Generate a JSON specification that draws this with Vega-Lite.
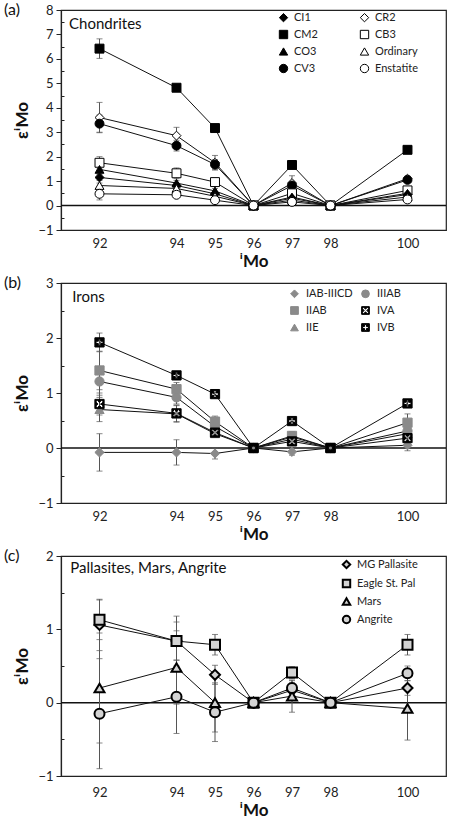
{
  "$schema": "https://vega.github.io/schema/vega-lite/v6.json",
  "padding": {"left": 3, "top": 1, "right": 5, "bottom": 0},
  "spacing": 4,
  "resolve": {"scale": {"shape": "independent", "fill": "independent", "stroke": "independent"}, "legend": {"shape": "independent", "fill": "independent", "stroke": "independent"}},
  "config": {
    "font": "Lato",
    "view": {"stroke": "#222", "strokeWidth": 1.2},
    "axis": {"domainColor": "#222", "domainWidth": 1.2, "tickColor": "#222", "labelColor": "#222", "titleColor": "#111", "labelFont": "Lato", "labelFontSize": 13, "titleFont": "Lato", "titleFontSize": 17, "titleFontWeight": "bold", "grid": false, "labelFlush": false},
    "legend": {"labelFont": "Lato", "labelColor": "#222", "padding": 0}
  },
  "datasets": {
    "a": [
      {"series": "CM2", "iso": 92, "val": 6.42, "err": 0.4}, {"series": "CM2", "iso": 94, "val": 4.82, "err": 0.12}, {"series": "CM2", "iso": 95, "val": 3.17, "err": 0.1}, {"series": "CM2", "iso": 96, "val": 0, "err": 0}, {"series": "CM2", "iso": 97, "val": 1.66, "err": 0.1}, {"series": "CM2", "iso": 98, "val": 0, "err": 0}, {"series": "CM2", "iso": 100, "val": 2.28, "err": 0.15},
      {"series": "CR2", "iso": 92, "val": 3.6, "err": 0.62}, {"series": "CR2", "iso": 94, "val": 2.86, "err": 0.34}, {"series": "CR2", "iso": 95, "val": 1.75, "err": 0.3}, {"series": "CR2", "iso": 96, "val": 0, "err": 0}, {"series": "CR2", "iso": 97, "val": 0.92, "err": 0.3}, {"series": "CR2", "iso": 98, "val": 0, "err": 0}, {"series": "CR2", "iso": 100, "val": 1.1, "err": 0.1},
      {"series": "CV3", "iso": 92, "val": 3.35, "err": 0.35}, {"series": "CV3", "iso": 94, "val": 2.45, "err": 0.22}, {"series": "CV3", "iso": 95, "val": 1.68, "err": 0.2}, {"series": "CV3", "iso": 96, "val": 0, "err": 0}, {"series": "CV3", "iso": 97, "val": 0.82, "err": 0.1}, {"series": "CV3", "iso": 98, "val": 0, "err": 0}, {"series": "CV3", "iso": 100, "val": 1.05, "err": 0.1},
      {"series": "CB3", "iso": 92, "val": 1.75, "err": 0.25}, {"series": "CB3", "iso": 94, "val": 1.32, "err": 0.22}, {"series": "CB3", "iso": 95, "val": 0.96, "err": 0.12}, {"series": "CB3", "iso": 96, "val": 0, "err": 0}, {"series": "CB3", "iso": 97, "val": 0.5, "err": 0.1}, {"series": "CB3", "iso": 98, "val": 0, "err": 0}, {"series": "CB3", "iso": 100, "val": 0.62, "err": 0.1},
      {"series": "CO3", "iso": 92, "val": 1.48, "err": 0.15}, {"series": "CO3", "iso": 94, "val": 0.92, "err": 0.1}, {"series": "CO3", "iso": 95, "val": 0.6, "err": 0.1}, {"series": "CO3", "iso": 96, "val": 0, "err": 0}, {"series": "CO3", "iso": 97, "val": 0.35, "err": 0.08}, {"series": "CO3", "iso": 98, "val": 0, "err": 0}, {"series": "CO3", "iso": 100, "val": 0.5, "err": 0.08},
      {"series": "CI1", "iso": 92, "val": 1.15, "err": 0.12}, {"series": "CI1", "iso": 94, "val": 0.82, "err": 0.1}, {"series": "CI1", "iso": 95, "val": 0.48, "err": 0.08}, {"series": "CI1", "iso": 96, "val": 0, "err": 0}, {"series": "CI1", "iso": 97, "val": 0.3, "err": 0.06}, {"series": "CI1", "iso": 98, "val": 0, "err": 0}, {"series": "CI1", "iso": 100, "val": 0.45, "err": 0.06},
      {"series": "Ordinary", "iso": 92, "val": 0.82, "err": 0.1}, {"series": "Ordinary", "iso": 94, "val": 0.7, "err": 0.08}, {"series": "Ordinary", "iso": 95, "val": 0.38, "err": 0.06}, {"series": "Ordinary", "iso": 96, "val": 0, "err": 0}, {"series": "Ordinary", "iso": 97, "val": 0.22, "err": 0.05}, {"series": "Ordinary", "iso": 98, "val": 0, "err": 0}, {"series": "Ordinary", "iso": 100, "val": 0.35, "err": 0.05},
      {"series": "Enstatite", "iso": 92, "val": 0.48, "err": 0.25}, {"series": "Enstatite", "iso": 94, "val": 0.44, "err": 0.1}, {"series": "Enstatite", "iso": 95, "val": 0.22, "err": 0.06}, {"series": "Enstatite", "iso": 96, "val": 0, "err": 0}, {"series": "Enstatite", "iso": 97, "val": 0.15, "err": 0.05}, {"series": "Enstatite", "iso": 98, "val": 0, "err": 0}, {"series": "Enstatite", "iso": 100, "val": 0.25, "err": 0.05}
    ],
    "b": [
      {"series": "IAB-IIICD", "iso": 92, "val": -0.08, "err": 0.34}, {"series": "IAB-IIICD", "iso": 94, "val": -0.08, "err": 0.23}, {"series": "IAB-IIICD", "iso": 95, "val": -0.1, "err": 0.1}, {"series": "IAB-IIICD", "iso": 96, "val": 0, "err": 0}, {"series": "IAB-IIICD", "iso": 97, "val": -0.07, "err": 0.06}, {"series": "IAB-IIICD", "iso": 98, "val": 0, "err": 0}, {"series": "IAB-IIICD", "iso": 100, "val": 0.05, "err": 0.1},
      {"series": "IIE", "iso": 92, "val": 0.7, "err": 0.22}, {"series": "IIE", "iso": 94, "val": 0.62, "err": 0.15}, {"series": "IIE", "iso": 95, "val": 0.26, "err": 0.06}, {"series": "IIE", "iso": 96, "val": 0, "err": 0}, {"series": "IIE", "iso": 97, "val": 0.16, "err": 0.05}, {"series": "IIE", "iso": 98, "val": 0, "err": 0}, {"series": "IIE", "iso": 100, "val": 0.26, "err": 0.08},
      {"series": "IIIAB", "iso": 92, "val": 1.21, "err": 0.25}, {"series": "IIIAB", "iso": 94, "val": 0.92, "err": 0.12}, {"series": "IIIAB", "iso": 95, "val": 0.39, "err": 0.08}, {"series": "IIIAB", "iso": 96, "val": 0, "err": 0}, {"series": "IIIAB", "iso": 97, "val": 0.2, "err": 0.06}, {"series": "IIIAB", "iso": 98, "val": 0, "err": 0}, {"series": "IIIAB", "iso": 100, "val": 0.31, "err": 0.1},
      {"series": "IIAB", "iso": 92, "val": 1.41, "err": 0.35}, {"series": "IIAB", "iso": 94, "val": 1.07, "err": 0.12}, {"series": "IIAB", "iso": 95, "val": 0.48, "err": 0.1}, {"series": "IIAB", "iso": 96, "val": 0, "err": 0}, {"series": "IIAB", "iso": 97, "val": 0.22, "err": 0.08}, {"series": "IIAB", "iso": 98, "val": 0, "err": 0}, {"series": "IIAB", "iso": 100, "val": 0.46, "err": 0.16},
      {"series": "IVA", "iso": 92, "val": 0.8, "err": 0.2}, {"series": "IVA", "iso": 94, "val": 0.63, "err": 0.15}, {"series": "IVA", "iso": 95, "val": 0.28, "err": 0.06}, {"series": "IVA", "iso": 96, "val": 0, "err": 0}, {"series": "IVA", "iso": 97, "val": 0.12, "err": 0.05}, {"series": "IVA", "iso": 98, "val": 0, "err": 0}, {"series": "IVA", "iso": 100, "val": 0.18, "err": 0.06},
      {"series": "IVB", "iso": 92, "val": 1.92, "err": 0.17}, {"series": "IVB", "iso": 94, "val": 1.32, "err": 0.07}, {"series": "IVB", "iso": 95, "val": 0.98, "err": 0.03}, {"series": "IVB", "iso": 96, "val": 0, "err": 0}, {"series": "IVB", "iso": 97, "val": 0.49, "err": 0.04}, {"series": "IVB", "iso": 98, "val": 0, "err": 0}, {"series": "IVB", "iso": 100, "val": 0.81, "err": 0.05}
    ],
    "c": [
      {"series": "MG Pallasite", "iso": 92, "val": 1.06, "err": 0.35}, {"series": "MG Pallasite", "iso": 94, "val": 0.84, "err": 0.26}, {"series": "MG Pallasite", "iso": 95, "val": 0.38, "err": 0.13}, {"series": "MG Pallasite", "iso": 96, "val": 0, "err": 0}, {"series": "MG Pallasite", "iso": 97, "val": 0.17, "err": 0.1}, {"series": "MG Pallasite", "iso": 98, "val": 0, "err": 0}, {"series": "MG Pallasite", "iso": 100, "val": 0.2, "err": 0.1},
      {"series": "Eagle St. Pal", "iso": 92, "val": 1.13, "err": 0.27}, {"series": "Eagle St. Pal", "iso": 94, "val": 0.84, "err": 0.34}, {"series": "Eagle St. Pal", "iso": 95, "val": 0.79, "err": 0.14}, {"series": "Eagle St. Pal", "iso": 96, "val": 0, "err": 0}, {"series": "Eagle St. Pal", "iso": 97, "val": 0.41, "err": 0.08}, {"series": "Eagle St. Pal", "iso": 98, "val": 0, "err": 0}, {"series": "Eagle St. Pal", "iso": 100, "val": 0.79, "err": 0.14},
      {"series": "Mars", "iso": 92, "val": 0.2, "err": 0.75}, {"series": "Mars", "iso": 94, "val": 0.48, "err": 0.5}, {"series": "Mars", "iso": 95, "val": 0.0, "err": 0.4}, {"series": "Mars", "iso": 96, "val": 0, "err": 0}, {"series": "Mars", "iso": 97, "val": 0.09, "err": 0.22}, {"series": "Mars", "iso": 98, "val": 0, "err": 0}, {"series": "Mars", "iso": 100, "val": -0.08, "err": 0.43},
      {"series": "Angrite", "iso": 92, "val": -0.15, "err": 0.75}, {"series": "Angrite", "iso": 94, "val": 0.08, "err": 0.5}, {"series": "Angrite", "iso": 95, "val": -0.13, "err": 0.4}, {"series": "Angrite", "iso": 96, "val": 0, "err": 0}, {"series": "Angrite", "iso": 97, "val": 0.2, "err": 0.1}, {"series": "Angrite", "iso": 98, "val": 0, "err": 0}, {"series": "Angrite", "iso": 100, "val": 0.4, "err": 0.1}
    ],
    "one": [{}]
  },
  "vconcat": [
    {
      "width": 385, "height": 220,
      "resolve": {"axis": {"y": "independent"}},
      "layer": [
        {"data": {"name": "one"}, "mark": {"type": "rule", "color": "#111", "strokeWidth": 1.5},
         "encoding": {"y": {"datum": 0, "type": "quantitative", "scale": {"domain": [-1, 8]},
           "axis": {"orient": "left", "values": [-0.5, 0.5, 1.5, 2.5, 3.5, 4.5, 5.5, 6.5, 7.5], "labels": false, "domain": false, "title": null, "tickSize": -3, "grid": false}}}},
        {"data": {"name": "a"}, "transform": [{"filter": "datum.err > 0"}],
         "mark": {"type": "errorbar", "ticks": {"size": 6, "color": "#555"}, "rule": {"color": "#555", "strokeWidth": 1}},
         "encoding": {
           "x": {"field": "iso", "type": "quantitative", "scale": {"domain": [91, 101]}, "axis": {"values": [92, 94, 95, 96, 97, 98, 100], "ticks": false, "labelPadding": 7, "title": "ⁱMo", "titlePadding": 3}},
           "y": {"field": "val", "type": "quantitative", "axis": null},
           "yError": {"field": "err"}}},
        {"data": {"name": "a"}, "mark": {"type": "line", "color": "#111", "strokeWidth": 1},
         "encoding": {
           "x": {"field": "iso", "type": "quantitative"},
           "y": {"field": "val", "type": "quantitative", "axis": null},
           "detail": {"field": "series"}}},
        {"data": {"name": "a"}, "mark": {"type": "point", "filled": true, "size": 80, "strokeWidth": 1, "opacity": 1},
         "encoding": {
           "x": {"field": "iso", "type": "quantitative"},
           "y": {"field": "val", "type": "quantitative",
                 "axis": {"orient": "left", "title": "εⁱMo", "values": [-1, 0, 1, 2, 3, 4, 5, 6, 7, 8], "labelOverlap": false, "tickSize": 5, "labelPadding": 3, "titlePadding": 6}},
           "shape": {"field": "series", "type": "nominal", "scale": {"domain": ["CI1", "CM2", "CO3", "CV3", "CR2", "CB3", "Ordinary", "Enstatite"], "range": ["diamond", "square", "triangle-up", "circle", "diamond", "square", "triangle-up", "circle"]},
                     "legend": {"orient": "none", "legendX": 217, "legendY": 2, "columns": 2, "columnPadding": 40, "rowPadding": 4, "title": null, "labelFontSize": 11, "symbolSize": 70, "symbolStrokeWidth": 1, "labelOffset": 5}},
           "fill": {"field": "series", "type": "nominal", "scale": {"domain": ["CI1", "CM2", "CO3", "CV3", "CR2", "CB3", "Ordinary", "Enstatite"], "range": ["#000", "#000", "#000", "#000", "#fff", "#fff", "#fff", "#fff"]},
                    "legend": {"orient": "none", "legendX": 217, "legendY": 2, "columns": 2, "columnPadding": 40, "rowPadding": 4, "title": null, "labelFontSize": 11, "symbolSize": 70, "symbolStrokeWidth": 1, "labelOffset": 5}},
           "stroke": {"field": "series", "type": "nominal", "scale": {"domain": ["CI1", "CM2", "CO3", "CV3", "CR2", "CB3", "Ordinary", "Enstatite"], "range": ["#000", "#000", "#000", "#000", "#000", "#000", "#000", "#000"]},
                    "legend": {"orient": "none", "legendX": 217, "legendY": 2, "columns": 2, "columnPadding": 40, "rowPadding": 4, "title": null, "labelFontSize": 11, "symbolSize": 70, "symbolStrokeWidth": 1, "labelOffset": 5}}}},
        {"data": {"name": "one"}, "mark": {"type": "text", "align": "left", "baseline": "middle", "fontSize": 15, "color": "#111"},
         "encoding": {"x": {"datum": 91.21, "type": "quantitative"}, "y": {"datum": 7.43, "type": "quantitative", "axis": null}, "text": {"value": "Chondrites"}}},
        {"data": {"name": "one"}, "mark": {"type": "text", "align": "left", "baseline": "middle", "fontSize": 16, "color": "#111"},
         "encoding": {"x": {"datum": 89.52, "type": "quantitative"}, "y": {"datum": 8, "type": "quantitative", "axis": null}, "text": {"value": "(a)"}}}
      ]
    },
    {
      "width": 385, "height": 220,
      "resolve": {"axis": {"y": "independent"}},
      "layer": [
        {"data": {"name": "one"}, "mark": {"type": "rule", "color": "#111", "strokeWidth": 1.5},
         "encoding": {"y": {"datum": 0, "type": "quantitative", "scale": {"domain": [-1, 3]},
           "axis": {"orient": "left", "values": [-0.5, 0.5, 1.5, 2.5], "labels": false, "domain": false, "title": null, "tickSize": -3, "grid": false}}}},
        {"data": {"name": "b"}, "transform": [{"filter": "datum.err > 0"}],
         "mark": {"type": "errorbar", "ticks": {"size": 6, "color": "#555"}, "rule": {"color": "#555", "strokeWidth": 1}},
         "encoding": {
           "x": {"field": "iso", "type": "quantitative", "scale": {"domain": [91, 101]}, "axis": {"values": [92, 94, 95, 96, 97, 98, 100], "ticks": false, "labelPadding": 7, "title": "ⁱMo", "titlePadding": 3}},
           "y": {"field": "val", "type": "quantitative", "axis": null},
           "yError": {"field": "err"}}},
        {"data": {"name": "b"}, "mark": {"type": "line", "color": "#111", "strokeWidth": 1},
         "encoding": {
           "x": {"field": "iso", "type": "quantitative"},
           "y": {"field": "val", "type": "quantitative", "axis": null},
           "detail": {"field": "series"}}},
        {"data": {"name": "b"}, "mark": {"type": "point", "filled": true, "size": 85, "strokeWidth": 1, "opacity": 1},
         "encoding": {
           "x": {"field": "iso", "type": "quantitative"},
           "y": {"field": "val", "type": "quantitative",
                 "axis": {"orient": "left", "title": "εⁱMo", "values": [-1, 0, 1, 2, 3], "labelOverlap": false, "tickSize": 5, "labelPadding": 3, "titlePadding": 6}},
           "shape": {"field": "series", "type": "nominal", "scale": {"domain": ["IAB-IIICD", "IIAB", "IIE", "IIIAB", "IVA", "IVB"], "range": ["diamond", "square", "triangle-up", "circle", "M-1,-1H1V1H-1Z M0.46,-0.813L0,-0.354L-0.46,-0.813L-0.813,-0.46L-0.354,0L-0.813,0.46L-0.46,0.813L0,0.354L0.46,0.813L0.813,0.46L0.354,0L0.813,-0.46Z", "M-1,-1H1V1H-1Z M-0.25,-0.75L-0.25,-0.25L-0.75,-0.25L-0.75,0.25L-0.25,0.25L-0.25,0.75L0.25,0.75L0.25,0.25L0.75,0.25L0.75,-0.25L0.25,-0.25L0.25,-0.75Z"]},
                     "legend": {"orient": "none", "legendX": 228, "legendY": 5, "columns": 2, "columnPadding": 6, "rowPadding": 4, "title": null, "labelFontSize": 11, "symbolSize": 60, "symbolStrokeWidth": 1, "labelOffset": 6}},
           "fill": {"field": "series", "type": "nominal", "scale": {"domain": ["IAB-IIICD", "IIAB", "IIE", "IIIAB", "IVA", "IVB"], "range": ["#8a8a8a", "#8a8a8a", "#8a8a8a", "#8a8a8a", "#000", "#000"]},
                    "legend": {"orient": "none", "legendX": 228, "legendY": 5, "columns": 2, "columnPadding": 6, "rowPadding": 4, "title": null, "labelFontSize": 11, "symbolSize": 60, "symbolStrokeWidth": 1, "labelOffset": 6}},
           "stroke": {"field": "series", "type": "nominal", "scale": {"domain": ["IAB-IIICD", "IIAB", "IIE", "IIIAB", "IVA", "IVB"], "range": ["#8a8a8a", "#8a8a8a", "#8a8a8a", "#8a8a8a", "#000", "#000"]},
                    "legend": {"orient": "none", "legendX": 228, "legendY": 5, "columns": 2, "columnPadding": 6, "rowPadding": 4, "title": null, "labelFontSize": 11, "symbolSize": 60, "symbolStrokeWidth": 1, "labelOffset": 6}}}},
        {"data": {"name": "one"}, "mark": {"type": "text", "align": "left", "baseline": "middle", "fontSize": 15, "color": "#111"},
         "encoding": {"x": {"datum": 91.29, "type": "quantitative"}, "y": {"datum": 2.74, "type": "quantitative", "axis": null}, "text": {"value": "Irons"}}},
        {"data": {"name": "one"}, "mark": {"type": "text", "align": "left", "baseline": "middle", "fontSize": 16, "color": "#111"},
         "encoding": {"x": {"datum": 89.52, "type": "quantitative"}, "y": {"datum": 3, "type": "quantitative", "axis": null}, "text": {"value": "(b)"}}}
      ]
    },
    {
      "width": 385, "height": 220,
      "resolve": {"axis": {"y": "independent"}},
      "layer": [
        {"data": {"name": "one"}, "mark": {"type": "rule", "color": "#111", "strokeWidth": 1.5},
         "encoding": {"y": {"datum": 0, "type": "quantitative", "scale": {"domain": [-1, 2]},
           "axis": {"orient": "left", "values": [-0.5, 0.5, 1.5], "labels": false, "domain": false, "title": null, "tickSize": -3, "grid": false}}}},
        {"data": {"name": "c"}, "transform": [{"filter": "datum.err > 0"}],
         "mark": {"type": "errorbar", "ticks": {"size": 6, "color": "#555"}, "rule": {"color": "#555", "strokeWidth": 1}},
         "encoding": {
           "x": {"field": "iso", "type": "quantitative", "scale": {"domain": [91, 101]}, "axis": {"values": [92, 94, 95, 96, 97, 98, 100], "ticks": false, "labelPadding": 10, "title": "ⁱMo", "titlePadding": 3}},
           "y": {"field": "val", "type": "quantitative", "axis": null},
           "yError": {"field": "err"}}},
        {"data": {"name": "c"}, "mark": {"type": "line", "color": "#111", "strokeWidth": 1},
         "encoding": {
           "x": {"field": "iso", "type": "quantitative"},
           "y": {"field": "val", "type": "quantitative", "axis": null},
           "detail": {"field": "series"}}},
        {"data": {"name": "c"}, "mark": {"type": "point", "filled": true, "size": 100, "strokeWidth": 2, "opacity": 1},
         "encoding": {
           "x": {"field": "iso", "type": "quantitative"},
           "y": {"field": "val", "type": "quantitative",
                 "axis": {"orient": "left", "title": "εⁱMo", "values": [-1, 0, 1, 2], "labelOverlap": false, "tickSize": 5, "labelPadding": 3, "titlePadding": 6}},
           "shape": {"field": "series", "type": "nominal", "scale": {"domain": ["MG Pallasite", "Eagle St. Pal", "Mars", "Angrite"], "range": ["diamond", "square", "triangle-up", "circle"]},
                     "legend": {"orient": "none", "legendX": 280, "legendY": 3, "rowPadding": 2, "title": null, "labelFontSize": 11, "symbolSize": 55, "symbolStrokeWidth": 2, "labelOffset": 5}},
           "fill": {"field": "series", "type": "nominal", "scale": {"domain": ["MG Pallasite", "Eagle St. Pal", "Mars", "Angrite"], "range": ["#d3d3d3", "#d3d3d3", "#d3d3d3", "#d3d3d3"]},
                    "legend": {"orient": "none", "legendX": 280, "legendY": 3, "rowPadding": 2, "title": null, "labelFontSize": 11, "symbolSize": 55, "symbolStrokeWidth": 2, "labelOffset": 5}},
           "stroke": {"field": "series", "type": "nominal", "scale": {"domain": ["MG Pallasite", "Eagle St. Pal", "Mars", "Angrite"], "range": ["#000", "#000", "#000", "#000"]},
                    "legend": {"orient": "none", "legendX": 280, "legendY": 3, "rowPadding": 2, "title": null, "labelFontSize": 11, "symbolSize": 55, "symbolStrokeWidth": 2, "labelOffset": 5}}}},
        {"data": {"name": "one"}, "mark": {"type": "text", "align": "left", "baseline": "middle", "fontSize": 15, "color": "#111"},
         "encoding": {"x": {"datum": 91.24, "type": "quantitative"}, "y": {"datum": 1.84, "type": "quantitative", "axis": null}, "text": {"value": "Pallasites, Mars, Angrite"}}},
        {"data": {"name": "one"}, "mark": {"type": "text", "align": "left", "baseline": "middle", "fontSize": 16, "color": "#111"},
         "encoding": {"x": {"datum": 89.52, "type": "quantitative"}, "y": {"datum": 2, "type": "quantitative", "axis": null}, "text": {"value": "(c)"}}}
      ]
    }
  ]
}
